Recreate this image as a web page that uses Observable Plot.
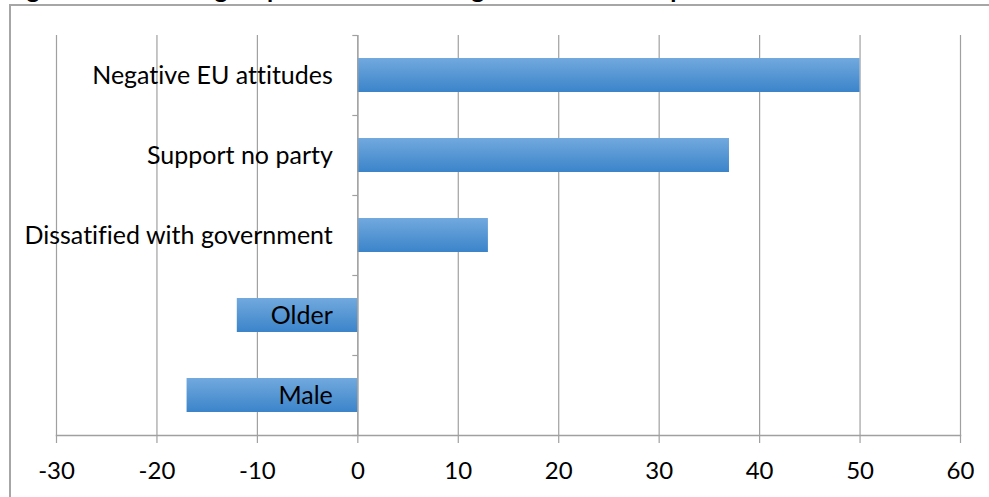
<!DOCTYPE html>
<html>
<head>
<meta charset="utf-8">
<script src="https://cdn.jsdelivr.net/npm/d3@7"></script>
<script src="https://cdn.jsdelivr.net/npm/@observablehq/plot@0.6"></script>
<style>
  html, body { margin: 0; padding: 0; background: #fff; overflow: hidden; }
  #wrap { position: relative; width: 989px; height: 497px; }
  #title { position: absolute; left: 6px; top: -27px; font: bold 25px Lato, sans-serif; color: #000; white-space: nowrap; }
  #frame { position: absolute; left: 9px; top: 4px; width: 1000px; height: 520px; border: 2px solid #a6a6a6; box-sizing: border-box; }
  #chart { position: absolute; left: 0; top: 0; }
  svg text { font-variant-ligatures: none; }
</style>
</head>
<body>
<div id="wrap">
  <div id="title">Figure 3: The strongest predictors of voting for UKIP in Europe</div>
  <div id="frame"></div>
  <div id="chart"></div>
</div>
<script>
const categories = ["Negative EU attitudes", "Support no party", "Dissatified with government", "Older", "Male"];
const values = [50, 37, 13, -12, -17];
const xTicks = [-30, -20, -10, 0, 10, 20, 30, 40, 50, 60];

const data = categories.map((c, i) => ({category: c, value: values[i]}));
const grid = "#a0a0a0";
const font = "Lato, sans-serif";

const chart = Plot.plot({
  width: 989,
  height: 497,
  marginLeft: 56,
  marginRight: 29,
  marginTop: 35,
  marginBottom: 62,
  style: {background: "transparent", fontFamily: font, fontSize: "24px", color: "#000"},
  x: {domain: [-30, 60], ticks: xTicks},
  y: {domain: categories, paddingInner: 0.58, paddingOuter: 0.29, axis: null},
  marks: [
    Plot.gridX(xTicks, {stroke: grid, strokeOpacity: 1, strokeWidth: 1.2}),
    Plot.barX(data, {x: "value", y: "category", fill: "url(#barGrad)", inset: 0}),
    Plot.ruleX([0], {stroke: grid, strokeWidth: 1.2}),
    Plot.ruleY(categories, {y: d => d, x1: -0.5, x2: 0, dy: -40, stroke: grid, strokeWidth: 1.2}),
    Plot.ruleY(categories.slice(-1), {y: d => d, x1: -0.5, x2: 0, dy: 40, stroke: grid, strokeWidth: 1.2}),
    Plot.frame({anchor: "bottom", stroke: grid, strokeWidth: 1.5}),
    Plot.axisX(xTicks, {anchor: "bottom", tickSize: 8, tickPadding: 18, stroke: grid, strokeWidth: 1.2, fontSize: 24, fill: "#000", label: null, tickFormat: d => d < 0 ? "-" + Math.abs(d) : String(d)}),
    Plot.text(data, {x: 0, y: "category", text: "category", textAnchor: "end", dx: -25, fontSize: 25, fill: "#000"})
  ]
});

const defs = document.createElementNS("http://www.w3.org/2000/svg", "defs");
defs.innerHTML = '<linearGradient id="barGrad" x1="0" y1="0" x2="0" y2="1">' +
  '<stop offset="0%" stop-color="#72a9de"/>' +
  '<stop offset="100%" stop-color="#3b84ca"/></linearGradient>';
chart.insertBefore(defs, chart.firstChild);
document.getElementById("chart").appendChild(chart);
</script>
</body>
</html>
